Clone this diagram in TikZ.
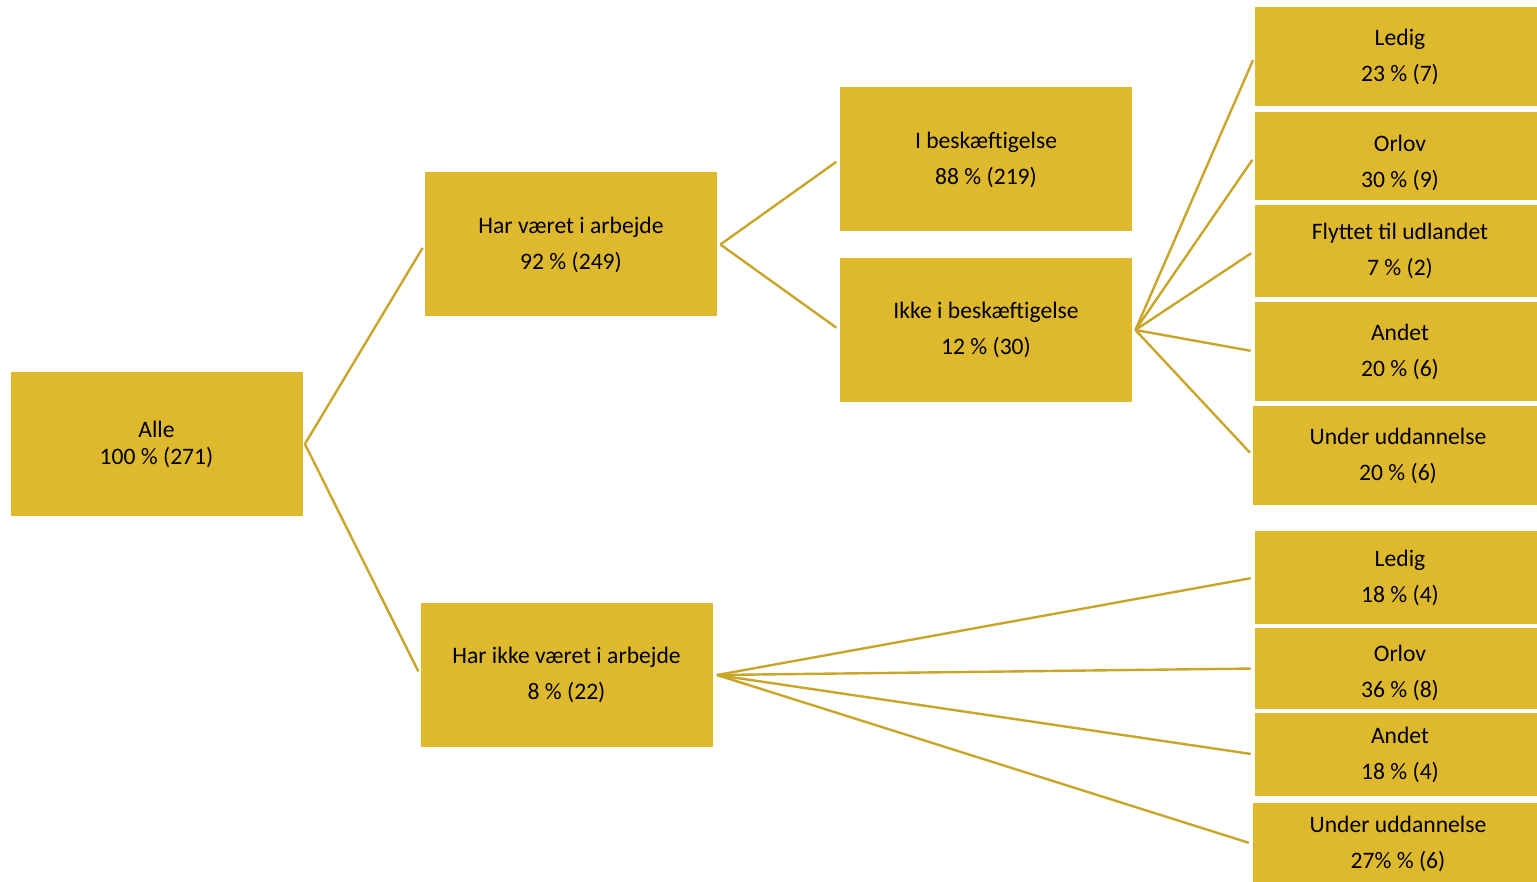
\documentclass[tikz,border=0pt]{standalone}
\usepackage{fontspec}
\setmainfont{Carlito}
\usepackage{tikz}
\usetikzlibrary{calc}
\definecolor{boxgold}{RGB}{222,185,45}
\definecolor{linegold}{RGB}{201,165,42}

\begin{document}
\begin{tikzpicture}[x=0.5pt,y=-0.5pt,auto]
		\tikzstyle{box}=[rectangle,fill=boxgold,inner sep=0pt,align=center,
			font=\fontsize{11.8}{18}\selectfont];
		\tikzstyle{bigbox}=[box,minimum width=146pt,minimum height=72pt];
		\tikzstyle{endbox}=[box,minimum width=145pt];
		\tikzstyle{link}=[draw=linegold,line width=1.2pt,shorten >=2pt];
		\clip(0,0)rectangle(1537,882);

		\node[bigbox,font=\fontsize{11.8}{13.5}\selectfont](0) at (156.5,444){Alle\\100 \% (271)};

		\node[bigbox](1) at (571,244.5){Har været i arbejde\\92 \% (249)};
		\node[bigbox](2) at (566.5,675){Har ikke været i arbejde\\8 \% (22)};

		\node[bigbox](11) at (986,159.5){I beskæftigelse\\88 \% (219)};
		\node[bigbox](12) at (986,330){Ikke i beskæftigelse\\12 \% (30)};

		\node[endbox,minimum height=49.5pt](121) at (1400,56.5){Ledig\\23 \% (7)};
		\node[endbox,minimum height=44pt](122) at (1400,156.5){\rule{0pt}{14.8pt}Orlov\\30 \% (9)};
		\node[endbox,minimum height=46pt](123) at (1400,251){Flyttet til udlandet\\7 \% (2)};
		\node[endbox,minimum height=49.5pt](124) at (1400,351.5){Andet\\20 \% (6)};
		\node[endbox,minimum height=49.5pt](125) at (1398,455.5){Under uddannelse\\20 \% (6)};

		\node[endbox,minimum height=46.5pt](21) at (1400,577.5){Ledig\\18 \% (4)};
		\node[endbox,minimum height=40.5pt](22) at (1400,668.5){\rule{0pt}{13pt}Orlov\\36 \% (8)};
		\node[endbox,minimum height=41.5pt](23) at (1400,754.5){Andet\\18 \% (4)};
		\node[endbox,minimum height=41pt](24) at (1398,844){Under uddannelse\\27\% \% (6)};

		\draw[link]([xshift=1pt]0.east)--(1.west);
		\draw[link]([xshift=1pt]0.east)--(2.west);
		\draw[link]([xshift=1.5pt]1.east)--(11.west);
		\draw[link]([xshift=1.5pt]1.east)--(12.west);
		\foreach \n in {121,122,123,124,125}
			\draw[link]([xshift=1.5pt]12.east)--(\n.west);
		\foreach \n in {21,22,23,24}
			\draw[link]([xshift=2pt]2.east)--(\n.west);
	\end{tikzpicture}
\end{document}
